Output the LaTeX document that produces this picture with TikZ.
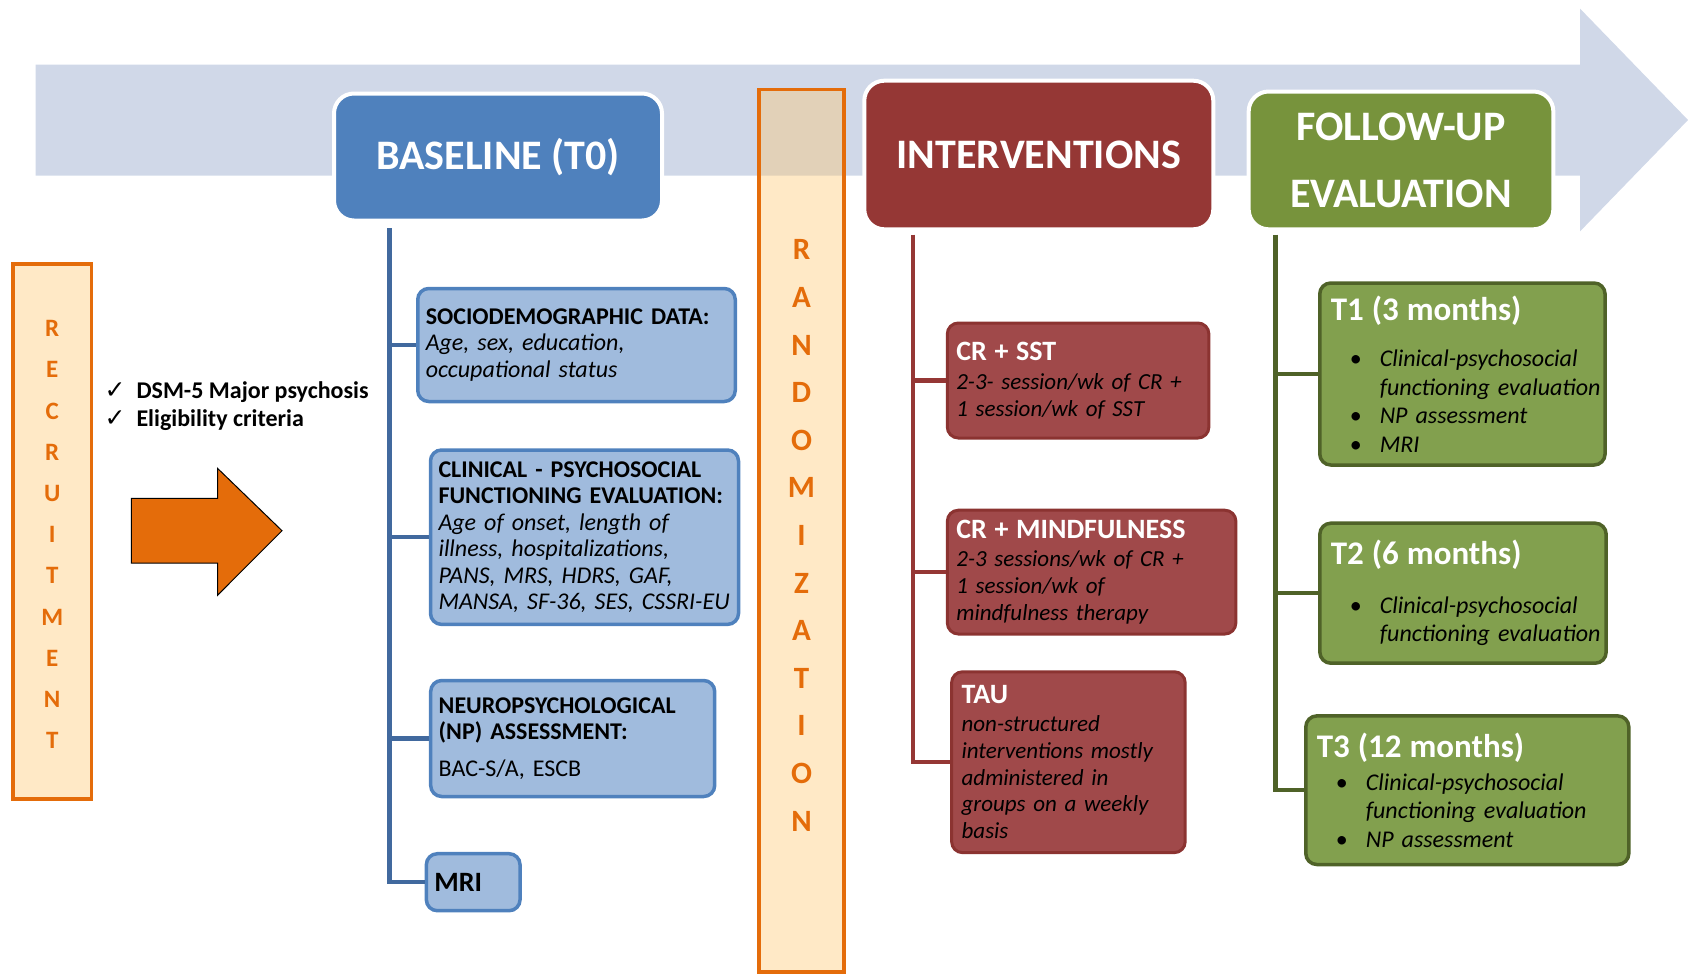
\documentclass[tikz,border=0pt]{standalone}
\usepackage{fontspec}
\setmainfont{Carlito}
\newfontfamily\symfont{DejaVu Sans}
\usetikzlibrary{positioning}

\definecolor{band}{HTML}{D0D8E8}
\definecolor{bluehead}{HTML}{4F81BD}
\definecolor{bluesub}{HTML}{A0BBDD}
\definecolor{blueline}{HTML}{41699E}
\definecolor{redhead}{HTML}{953735}
\definecolor{redsub}{HTML}{A0494A}
\definecolor{rededge}{HTML}{8B3331}
\definecolor{greenhead}{HTML}{77933C}
\definecolor{greensub}{HTML}{82A04E}
\definecolor{greenedge}{HTML}{4F6228}
\definecolor{orangeedge}{HTML}{E46C0A}
\definecolor{peach}{HTML}{FFC870}

\tikzset{
  head/.style={draw=white, line width=4pt, rounded corners=20pt, text=white,
    font=\fontsize{42}{67}\selectfont\bfseries, align=center},
  orangebox/.style={draw=orangeedge, line width=3.5pt, fill=peach, fill opacity=0.4},
  orangetext/.style={text=orangeedge, align=center},
  bluebox/.style={draw=bluehead, fill=bluesub, line width=3.5pt, rounded corners=11pt,
    align=left, inner xsep=8pt, font=\fontsize{24}{26.5}\selectfont},
  redbox/.style={draw=rededge, fill=redsub, line width=3pt, rounded corners=11pt,
    align=left, inner xsep=9pt, font=\fontsize{23}{26.8}\selectfont},
  greenbox/.style={draw=greenedge, fill=greensub, line width=3.5pt, rounded corners=11pt,
    align=left, inner xsep=11pt, font=\fontsize{24}{28.5}\selectfont},
  bline/.style={draw=blueline, line width=4.5pt},
  rline/.style={draw=redhead, line width=4.5pt},
  gline/.style={draw=greenedge, line width=4.5pt}
}

\newcommand{\wh}[1]{\textcolor{white}{\textbf{#1}}}
\newcommand{\redhd}[1]{\wh{\fontsize{28}{28}\selectfont #1}}
\newcommand{\grnhd}[1]{\wh{\fontsize{33}{33}\selectfont #1}}
\newcommand{\bul}[1]{\mbox{\hspace*{19pt}\makebox[30pt][l]{\textbullet}\textit{#1}}}
\newcommand{\cont}[1]{\mbox{\hspace*{49pt}\textit{#1}}}
\newcommand{\tick}{\makebox[32pt][l]{\symfont\fontsize{25}{25}\selectfont ✓}}

\begin{document}
\begin{tikzpicture}[x=1pt, y=-1pt]
\useasboundingbox (0,0) rectangle (1688,974);

% timeline
\fill[band] (35.5,64.6) -- (1580,64.6) -- (1580,8.6) -- (1688,120)
  -- (1580,231.4) -- (1580,175.5) -- (35.5,175.5) -- cycle;

% recruitment and randomization
\node[orangebox, minimum width=78.6, minimum height=535] (recruit) at (52.2,531.3) {};
\node[orangetext, font=\fontsize{25}{41.2}\selectfont\bfseries] (recruittext) at (52.2,534.5)
  {R\\E\\C\\R\\U\\I\\T\\M\\E\\N\\T};
\node[orangebox, minimum width=85, minimum height=882.6] (random) at (801.5,530.7) {};
\node[orangetext, font=\fontsize{31}{47.6}\selectfont\bfseries] (randomtext) at (801.5,535.5)
  {R\\A\\N\\D\\O\\M\\I\\Z\\A\\T\\I\\O\\N};

\node[anchor=west, align=left, font=\fontsize{24}{28}\selectfont\bfseries] (criteria) at (101,405.8)
  {\tick DSM-5 Major psychosis\\\tick Eligibility criteria};
\draw[black, fill=orangeedge, line width=1pt] (131.3,498.4) -- (217.5,498.4) -- (217.5,468.3)
  -- (282,530.7) -- (217.5,595.3) -- (217.5,563) -- (131.3,563) -- cycle;

% headers
\node[head, fill=bluehead, minimum width=328, minimum height=127] (baseline) at (498,157) {BASELINE (T0)};
\node[head, fill=redhead, minimum width=349, minimum height=148.6] (interv) at (1038.8,155) {INTERVENTIONS};
\node[head, fill=greenhead, minimum width=304.7, minimum height=137.8] (followup) at (1401,160.4)
  {FOLLOW-UP\\EVALUATION};

% baseline
\node[bluebox, minimum width=317.5, minimum height=113, text width=301.5] (socio) at (576.5,345)
  {\textbf{SOCIODEMOGRAPHIC DATA:}\\\textit{Age, sex, education,}\\\textit{occupational status}};
\node[bluebox, minimum width=308, minimum height=174.4, text width=292] (clinical) at (584.5,537.2)
  {\textbf{CLINICAL - PSYCHOSOCIAL}\\\textbf{FUNCTIONING EVALUATION:}\\\textit{Age of onset, length of}\\
   \textit{illness, hospitalizations,}\\\textit{PANS, MRS, HDRS, GAF,}\\\textit{MANSA, SF-36, SES, CSSRI-EU}};
\node[bluebox, minimum width=284, minimum height=116, text width=268] (np) at (572.7,738.5)
  {\textbf{NEUROPSYCHOLOGICAL}\\\textbf{(NP) ASSESSMENT:}\\[10pt]BAC-S/A, ESCB};
\node[bluebox, minimum width=93.7, minimum height=57, text width=77.7, font=\fontsize{28}{30}\selectfont\bfseries] (mri) at (473.2,882.2) {MRI};

\coordinate (btop) at (389.7,228.2);
\draw[bline] (btop) |- (mri.west);
\foreach \b in {socio,clinical,np}
  \draw[bline] (btop |- \b.west) -- (\b.west);

% interventions
\node[redbox, minimum width=261.6, minimum height=115, text width=243.6] (crsst) at (1078.1,380.5)
  {\redhd{CR + SST}\\[3pt]\textit{2-3- session/wk of CR +}\\\textit{1 session/wk of SST}};
\node[redbox, minimum width=288.5, minimum height=123.8, text width=270.5] (crmind) at (1091.6,572.1)
  {\redhd{CR + MINDFULNESS}\\[1pt]\textit{2-3 sessions/wk of CR +}\\\textit{1 session/wk of}\\\textit{mindfulness therapy}};
\node[redbox, minimum width=233.6, minimum height=180.9, text width=213.6, inner xsep=10pt] (tau) at (1068.4,762.2)
  {\redhd{TAU}\\[1pt]\textit{non-structured}\\\textit{interventions mostly}\\\textit{administered in}\\
   \textit{groups on a weekly}\\\textit{basis}};

\coordinate (itop) at (912.9,234.7);
\draw[rline] (itop) |- (tau.west);
\foreach \b in {crsst,crmind}
  \draw[rline] (itop |- \b.west) -- (\b.west);

% follow-up
\node[greenbox, minimum width=285.3, minimum height=182, text width=263.3] (tone) at (1462.4,374)
  {\grnhd{T1 (3 months)}\\[17.5pt]
   \bul{Clinical-psychosocial}\\\cont{functioning evaluation}\\
   \bul{NP assessment}\\\bul{MRI}};
\node[greenbox, minimum width=286.3, minimum height=140, text width=264.3] (ttwo) at (1463,593.2)
  {\grnhd{T2 (6 months)}\\[20pt]
   \bul{Clinical-psychosocial}\\\cont{functioning evaluation}};
\node[greenbox, minimum width=323, minimum height=148.6, text width=301] (tthree) at (1467.3,790.2)
  {\grnhd{T3 (12 months)}\\[4.5pt]
   \bul{Clinical-psychosocial}\\\cont{functioning evaluation}\\
   \bul{NP assessment}};

\coordinate (ftop) at (1275.7,234.7);
\draw[gline] (ftop) |- (tthree.west);
\foreach \b in {tone,ttwo}
  \draw[gline] (ftop |- \b.west) -- (\b.west);
\end{tikzpicture}
\end{document}
